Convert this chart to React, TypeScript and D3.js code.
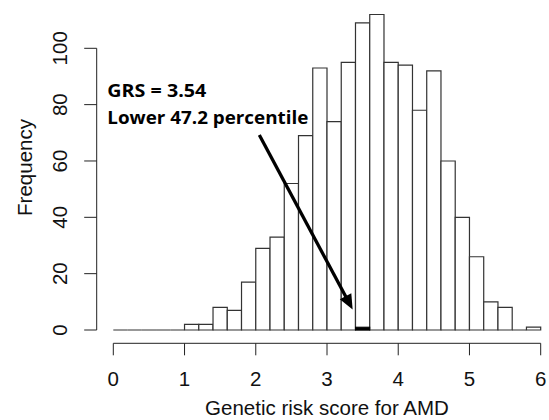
import { useEffect, useRef } from "react";
import * as d3 from "d3";

// histogram bins of 0.2 from 0 to 6
const binStarts = [
  0, 0.2, 0.4, 0.6, 0.8, 1.0, 1.2, 1.4, 1.6, 1.8, 2.0, 2.2, 2.4, 2.6, 2.8,
  3.0, 3.2, 3.4, 3.6, 3.8, 4.0, 4.2, 4.4, 4.6, 4.8, 5.0, 5.2, 5.4, 5.6, 5.8,
];
const counts = [
  0, 0, 0, 0, 0, 2, 2, 8, 7, 17, 29, 33, 52, 69, 93, 74, 95, 109, 112, 95,
  94, 78, 92, 60, 40, 26, 10, 8, 0, 1,
];
const binWidth = 0.2;

// the subject's own bin, filled black
const highlightBin = 3.4;
const highlightCount = 1;

const xTicks = [0, 1, 2, 3, 4, 5, 6];
const yTicks = [0, 20, 40, 60, 80, 100];

const annotationLines = ["GRS = 3.54", "Lower 47.2 percentile"];
const arrowFrom = [2.05, 69.2];
const arrowTo = [3.36, 7.3];

export default function App() {
  const ref = useRef<SVGSVGElement | null>(null);

  useEffect(() => {
    const W = 549;
    const H = 420;
    const svg = d3.select(ref.current);
    svg.selectAll("*").remove();
    svg.attr("width", W).attr("height", H);

    const x = d3.scaleLinear().domain([0, 6]).range([113.3, 540.7]);
    const y = d3.scaleLinear().domain([0, 100]).range([330, 48.3]);

    const axisFont = "Arial, 'Liberation Sans', sans-serif";
    const fs = 20.5;

    svg.append("rect").attr("width", W).attr("height", H).attr("fill", "#fff");

    // bars (paths so that empty bins still show a flat line)
    svg
      .append("g")
      .selectAll("path")
      .data(binStarts.map((b, i) => ({ b, c: counts[i] })))
      .enter()
      .append("path")
      .attr("d", (d) => {
        const x0 = x(d.b);
        const x1 = x(d.b + binWidth);
        const y0 = y(0);
        const y1 = y(d.c);
        return `M${x0},${y0}V${y1}H${x1}V${y0}Z`;
      })
      .attr("fill", "#fff")
      .attr("stroke", "#333")
      .attr("stroke-width", 1.2);

    svg
      .append("rect")
      .attr("x", x(highlightBin))
      .attr("y", y(highlightCount))
      .attr("width", x(highlightBin + binWidth) - x(highlightBin))
      .attr("height", y(0) - y(highlightCount))
      .attr("fill", "#000")
      .attr("stroke", "#000")
      .attr("stroke-width", 1);

    // x axis
    const xAxisY = 343.3;
    const gx = svg.append("g").attr("stroke", "#222").attr("stroke-width", 1);
    gx.append("line")
      .attr("x1", x(xTicks[0]))
      .attr("x2", x(xTicks[xTicks.length - 1]))
      .attr("y1", xAxisY)
      .attr("y2", xAxisY);
    gx.selectAll("line.t")
      .data(xTicks)
      .enter()
      .append("line")
      .attr("class", "t")
      .attr("x1", (d) => x(d))
      .attr("x2", (d) => x(d))
      .attr("y1", xAxisY)
      .attr("y2", xAxisY + 12);
    svg
      .append("g")
      .selectAll("text")
      .data(xTicks)
      .enter()
      .append("text")
      .attr("x", (d) => x(d))
      .attr("y", 386)
      .attr("text-anchor", "middle")
      .style("font-family", axisFont)
      .style("font-size", `${fs}px`)
      .style("fill", "#111")
      .text((d) => d);

    svg
      .append("text")
      .attr("x", (x(0) + x(6)) / 2)
      .attr("y", 415)
      .attr("text-anchor", "middle")
      .style("font-family", axisFont)
      .style("font-size", `${fs}px`)
      .style("fill", "#111")
      .text("Genetic risk score for AMD");

    // y axis
    const yAxisX = 96.7;
    const gy = svg.append("g").attr("stroke", "#222").attr("stroke-width", 1);
    gy.append("line")
      .attr("x1", yAxisX)
      .attr("x2", yAxisX)
      .attr("y1", y(yTicks[0]))
      .attr("y2", y(yTicks[yTicks.length - 1]));
    gy.selectAll("line.t")
      .data(yTicks)
      .enter()
      .append("line")
      .attr("class", "t")
      .attr("x1", yAxisX - 12.5)
      .attr("x2", yAxisX)
      .attr("y1", (d) => y(d))
      .attr("y2", (d) => y(d));
    svg
      .append("g")
      .selectAll("text")
      .data(yTicks)
      .enter()
      .append("text")
      .attr("transform", (d) => `translate(67,${y(d)}) rotate(-90)`)
      .attr("text-anchor", "middle")
      .style("font-family", axisFont)
      .style("font-size", `${fs}px`)
      .style("fill", "#111")
      .text((d) => d);

    svg
      .append("text")
      .attr("transform", `translate(32,167.5) rotate(-90)`)
      .attr("text-anchor", "middle")
      .style("font-family", axisFont)
      .style("font-size", `${fs}px`)
      .style("fill", "#111")
      .text("Frequency");

    // annotation
    const noteWidths = [99, 201];
    svg
      .append("g")
      .selectAll("text")
      .data(annotationLines)
      .enter()
      .append("text")
      .attr("x", 107.3)
      .attr("y", (_, i) => 97 + i * 26.6)
      .attr("textLength", (_, i) => noteWidths[i])
      .attr("lengthAdjust", "spacingAndGlyphs")
      .style("font-family", "'Open Sans', 'Noto Sans', sans-serif")
      .style("font-weight", "700")
      .style("font-size", "18px")
      .style("fill", "#000")
      .text((d) => d);

    // arrow
    const sx = x(arrowFrom[0]);
    const sy = y(arrowFrom[1]);
    const tx = x(arrowTo[0]);
    const ty = y(arrowTo[1]);
    const len = Math.hypot(tx - sx, ty - sy);
    const ux = (tx - sx) / len;
    const uy = (ty - sy) / len;
    const headLen = 15;
    const headHalf = 6.5;
    const bx = tx - ux * headLen;
    const by = ty - uy * headLen;
    svg
      .append("line")
      .attr("x1", sx)
      .attr("y1", sy)
      .attr("x2", bx + ux * 2)
      .attr("y2", by + uy * 2)
      .attr("stroke", "#000")
      .attr("stroke-width", 3.3);
    svg
      .append("path")
      .attr(
        "d",
        `M${tx},${ty}L${bx - uy * headHalf},${by + ux * headHalf}L${bx + uy * headHalf},${by - ux * headHalf}Z`
      )
      .attr("fill", "#000");
  }, []);

  return (
    <div style={{ position: "absolute", left: 0, top: 0 }}>
      <svg ref={ref} style={{ display: "block" }} />
    </div>
  );
}
